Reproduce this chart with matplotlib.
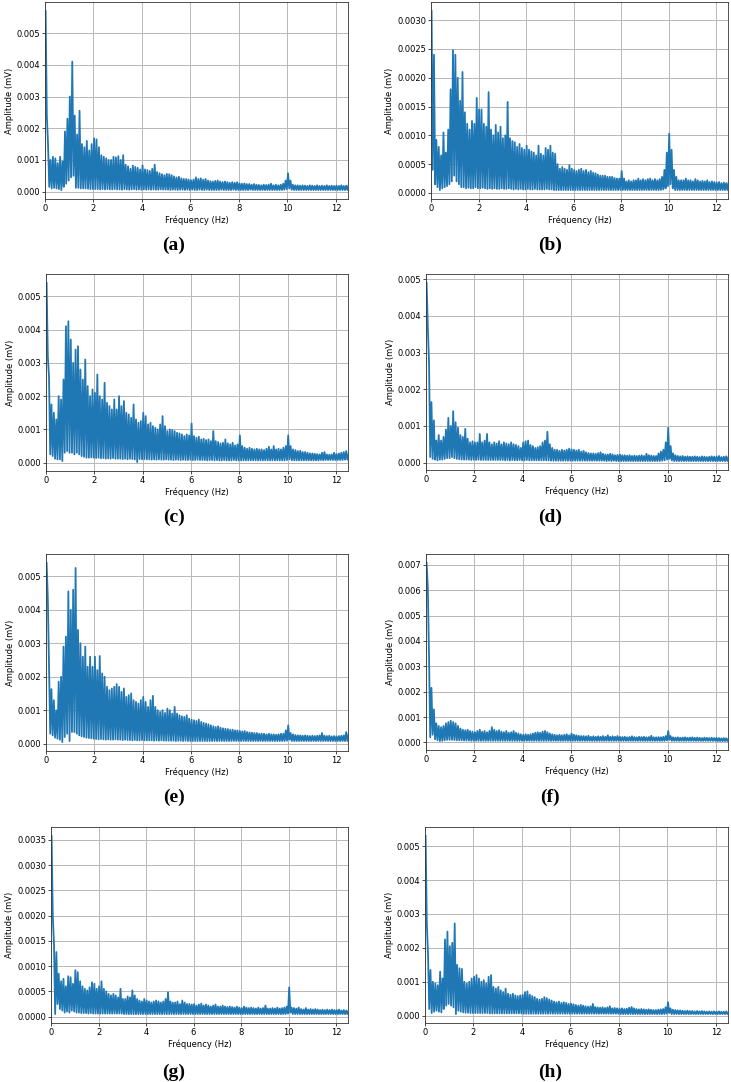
import numpy as np
import matplotlib.pyplot as plt
from matplotlib.ticker import MultipleLocator

# FFT amplitude spectra in units of 1e-5 mV.
# "even" = bins at 0.0, 0.1, ... 12.5 Hz ; "odd" = bins at 0.05, 0.15, ... 12.45 Hz
a_even = [570, 150, 100, 110, 105, 90, 110, 95, 190, 230,
          300, 410, 240, 180, 255, 150, 140, 160, 130, 150,
          168, 165, 140, 115, 110, 105, 100, 100, 110, 108,
          112, 100, 115, 85, 80, 72, 82, 78, 75, 70,
          83, 70, 68, 65, 72, 85, 62, 58, 55, 52,
          56, 55, 52, 48, 45, 47, 42, 40, 40, 38,
          36, 38, 45, 40, 42, 38, 40, 35, 33, 32,
          34, 35, 32, 30, 32, 30, 28, 30, 28, 30,
          26, 25, 26, 24, 24, 22, 24, 22, 21, 20,
          22, 21, 22, 25, 20, 22, 20, 22, 25, 35,
          58, 35, 22, 20, 20, 19, 20, 19, 18, 20,
          19, 18, 20, 18, 19, 18, 20, 18, 19, 18,
          19, 18, 20, 18, 19, 20]
a_odd = [240, 15, 10, 12, 10, 8, 5, 15, 25, 35,
         45, 50, 12, 12, 10, 10, 10, 9, 8, 8,
         8, 8, 7, 8, 7, 8, 7, 7, 8, 7,
         7, 6, 8, 7, 6, 7, 8, 6, 7, 6,
         7, 6, 7, 6, 7, 6, 6, 7, 6, 6,
         6, 5, 6, 6, 5, 6, 6, 5, 6, 5,
         6, 5, 5, 6, 5, 5, 6, 5, 5, 5,
         5, 5, 6, 5, 5, 5, 5, 6, 5, 5,
         5, 5, 5, 5, 6, 5, 5, 5, 5, 5,
         5, 5, 5, 5, 5, 5, 5, 5, 6, 8,
         10, 6, 5, 5, 5, 5, 5, 5, 5, 5,
         5, 5, 5, 5, 5, 5, 5, 5, 5, 5,
         5, 5, 5, 5, 5]

b_even = [316, 240, 92, 80, 65, 105, 70, 110, 180, 248,
          240, 200, 160, 210, 140, 120, 110, 125, 120, 165,
          145, 145, 120, 115, 175, 110, 100, 118, 105, 115,
          95, 100, 158, 95, 90, 88, 80, 85, 78, 75,
          82, 75, 72, 70, 65, 82, 68, 65, 78, 75,
          82, 70, 68, 50, 42, 45, 42, 40, 48, 42,
          40, 38, 40, 42, 38, 40, 36, 38, 35, 34,
          32, 30, 30, 30, 28, 28, 28, 26, 25, 25,
          38, 25, 20, 22, 20, 22, 22, 25, 22, 24,
          22, 24, 25, 22, 24, 22, 24, 28, 40, 70,
          103, 75, 40, 28, 22, 22, 22, 25, 22, 22,
          20, 24, 22, 20, 21, 20, 22, 19, 20, 19,
          18, 19, 17, 18, 17, 18]
b_odd = [40, 15, 10, 5, 8, 10, 12, 15, 20, 30,
         20, 15, 10, 10, 8, 9, 8, 8, 10, 8,
         8, 9, 8, 7, 8, 7, 8, 7, 7, 8,
         7, 7, 8, 7, 6, 7, 6, 7, 6, 6,
         7, 6, 6, 7, 6, 6, 6, 6, 7, 6,
         6, 5, 5, 5, 5, 5, 5, 5, 5, 5,
         5, 5, 5, 5, 5, 5, 5, 5, 5, 5,
         5, 5, 5, 5, 5, 5, 5, 5, 5, 5,
         5, 5, 5, 5, 5, 5, 5, 5, 5, 5,
         5, 5, 5, 5, 5, 5, 5, 6, 8, 12,
         15, 8, 5, 5, 5, 5, 5, 5, 5, 5,
         5, 5, 5, 5, 5, 5, 5, 5, 5, 5,
         5, 5, 5, 5, 5]

c_even = [540, 257, 175, 150, 130, 200, 190, 250, 410, 425,
          370, 300, 340, 350, 280, 250, 310, 230, 200, 220,
          210, 265, 200, 190, 240, 180, 170, 160, 190, 160,
          200, 170, 185, 150, 145, 135, 175, 130, 120, 125,
          150, 140, 115, 120, 110, 105, 100, 115, 140, 110,
          95, 100, 98, 95, 90, 88, 85, 80, 85, 82,
          118, 80, 75, 78, 70, 72, 68, 70, 65, 95,
          65, 62, 58, 60, 70, 58, 55, 60, 52, 55,
          82, 50, 45, 42, 45, 42, 40, 42, 40, 40,
          38, 42, 48, 40, 50, 40, 42, 40, 45, 50,
          82, 50, 40, 38, 35, 36, 32, 32, 30, 28,
          28, 27, 26, 25, 30, 32, 25, 24, 25, 30,
          26, 28, 30, 32, 35, 25]
c_odd = [320, 25, 20, 12, 10, 10, 5, 30, 35, 30,
         30, 25, 30, 25, 20, 18, 15, 15, 16, 15,
         14, 15, 13, 14, 12, 13, 12, 14, 12, 12,
         12, 11, 12, 10, 12, 11, 10, 2, 11, 10,
         11, 10, 10, 9, 10, 9, 10, 9, 9, 10,
         9, 9, 8, 9, 9, 8, 9, 8, 8, 9,
         8, 8, 9, 8, 8, 8, 7, 8, 8, 7,
         8, 7, 7, 8, 7, 7, 7, 8, 7, 7,
         7, 7, 7, 7, 7, 7, 7, 7, 7, 7,
         7, 7, 7, 7, 7, 7, 7, 7, 7, 8,
         10, 7, 7, 7, 7, 7, 7, 7, 7, 7,
         7, 7, 7, 8, 7, 8, 8, 8, 8, 8,
         8, 8, 8, 9, 9]

d_even = [490, 275, 165, 115, 60, 75, 60, 70, 90, 122,
          100, 140, 110, 95, 75, 70, 92, 65, 55, 58,
          55, 55, 78, 55, 60, 78, 55, 50, 55, 52,
          58, 50, 55, 52, 50, 55, 50, 48, 45, 40,
          55, 58, 60, 48, 45, 40, 42, 45, 55, 60,
          84, 50, 40, 35, 35, 32, 35, 33, 35, 38,
          36, 35, 33, 35, 30, 32, 28, 26, 25, 25,
          24, 26, 28, 24, 22, 22, 24, 22, 20, 21,
          22, 20, 20, 19, 20, 18, 19, 18, 19, 20,
          18, 24, 20, 19, 18, 18, 25, 30, 35, 55,
          95, 45, 25, 20, 18, 17, 18, 16, 17, 16,
          16, 17, 16, 15, 17, 16, 15, 16, 17, 16,
          16, 18, 15, 16, 17, 15]
d_odd = [370, 15, 10, 8, 6, 8, 8, 10, 12, 12,
         15, 12, 10, 9, 8, 8, 8, 8, 7, 8,
         7, 8, 7, 7, 7, 7, 7, 7, 7, 7,
         7, 7, 6, 7, 6, 7, 6, 6, 7, 6,
         6, 7, 6, 6, 6, 6, 6, 6, 6, 6,
         6, 5, 5, 5, 5, 5, 5, 5, 5, 5,
         5, 5, 5, 5, 5, 5, 5, 5, 5, 5,
         5, 5, 5, 5, 4, 5, 4, 5, 4, 4,
         4, 4, 4, 4, 4, 4, 4, 4, 4, 4,
         4, 4, 4, 4, 4, 4, 4, 5, 6, 8,
         10, 6, 4, 4, 4, 4, 4, 4, 4, 4,
         4, 4, 4, 4, 4, 4, 4, 4, 4, 4,
         4, 4, 4, 4, 4]

e_even = [540, 228, 163, 130, 100, 185, 200, 290, 320, 455,
          400, 460, 525, 340, 300, 260, 290, 230, 260, 230,
          260, 220, 262, 210, 200, 170, 160, 165, 170, 178,
          170, 155, 165, 140, 145, 150, 130, 125, 120, 130,
          140, 125, 110, 130, 143, 110, 100, 95, 100, 92,
          105, 100, 90, 110, 90, 85, 82, 80, 85, 75,
          72, 70, 68, 72, 65, 62, 60, 58, 55, 52,
          50, 52, 48, 46, 45, 44, 42, 42, 40, 40,
          38, 37, 38, 35, 34, 33, 32, 32, 30, 30,
          30, 28, 30, 28, 28, 27, 28, 30, 30, 40,
          55, 32, 28, 26, 25, 25, 24, 25, 24, 23,
          24, 23, 24, 25, 32, 24, 23, 24, 22, 23,
          22, 23, 24, 25, 35, 28]
e_odd = [435, 30, 25, 18, 15, 12, 5, 20, 30, 8,
         35, 35, 30, 25, 22, 20, 18, 17, 16, 15,
         14, 13, 14, 13, 12, 13, 12, 12, 13, 12,
         12, 11, 12, 11, 11, 10, 11, 10, 10, 11,
         10, 10, 10, 10, 9, 10, 9, 10, 9, 9,
         9, 9, 9, 8, 9, 9, 8, 9, 8, 8,
         8, 8, 8, 8, 8, 8, 8, 8, 8, 8,
         8, 8, 8, 8, 8, 8, 8, 8, 8, 8,
         8, 8, 8, 8, 8, 8, 8, 8, 8, 8,
         8, 8, 8, 8, 8, 8, 8, 8, 8, 9,
         12, 8, 8, 8, 8, 8, 8, 8, 8, 8,
         8, 8, 8, 8, 8, 8, 8, 8, 8, 8,
         8, 8, 8, 8, 8]

f_even = [708, 340, 215, 130, 75, 65, 60, 65, 75, 80,
          85, 80, 75, 65, 55, 50, 48, 50, 45, 42,
          40, 45, 50, 42, 45, 40, 45, 60, 50, 45,
          48, 42, 40, 45, 38, 40, 45, 38, 35, 32,
          30, 32, 30, 32, 35, 38, 40, 38, 42, 45,
          40, 35, 32, 30, 28, 30, 28, 30, 32, 28,
          35, 30, 28, 26, 25, 25, 24, 26, 22, 24,
          22, 24, 22, 25, 22, 28, 22, 24, 22, 25,
          22, 21, 22, 20, 21, 24, 21, 20, 22, 21,
          22, 20, 21, 26, 20, 20, 21, 20, 22, 25,
          45, 25, 20, 19, 20, 18, 19, 20, 18, 19,
          20, 18, 19, 18, 17, 19, 18, 17, 18, 17,
          18, 17, 16, 17, 16, 15]
f_odd = [610, 20, 30, 12, 8, 5, 6, 8, 10, 10,
         10, 9, 8, 8, 8, 7, 7, 7, 6, 6,
         6, 6, 6, 6, 6, 6, 6, 6, 6, 6,
         6, 6, 6, 6, 6, 6, 6, 6, 6, 6,
         6, 6, 6, 6, 6, 6, 6, 6, 6, 6,
         6, 6, 6, 6, 6, 6, 6, 6, 6, 6,
         6, 6, 6, 6, 6, 6, 6, 6, 6, 6,
         6, 6, 6, 6, 6, 6, 6, 6, 6, 6,
         6, 6, 6, 6, 6, 6, 6, 6, 6, 6,
         6, 6, 6, 6, 6, 6, 6, 6, 6, 8,
         10, 6, 6, 6, 6, 6, 6, 6, 6, 6,
         6, 6, 6, 6, 6, 6, 6, 6, 6, 6,
         5, 5, 5, 5, 5]

g_even = [358, 145, 128, 85, 70, 75, 60, 80, 78, 65,
          92, 88, 70, 60, 55, 52, 58, 68, 65, 55,
          60, 70, 55, 50, 45, 42, 45, 42, 38, 55,
          35, 35, 40, 38, 52, 42, 35, 32, 30, 35,
          32, 30, 28, 30, 32, 30, 28, 30, 35, 48,
          30, 28, 28, 30, 25, 32, 28, 25, 25, 24,
          25, 22, 24, 26, 22, 24, 22, 20, 22, 24,
          20, 20, 22, 20, 19, 20, 19, 18, 20, 18,
          17, 20, 18, 17, 18, 17, 16, 18, 16, 17,
          22, 16, 16, 17, 16, 18, 16, 17, 18, 20,
          58, 18, 17, 16, 18, 15, 14, 17, 14, 15,
          14, 15, 14, 13, 14, 13, 14, 13, 14, 13,
          13, 14, 12, 13, 12, 12]
g_odd = [200, 5, 25, 15, 12, 8, 10, 8, 12, 10,
         8, 8, 7, 7, 7, 6, 7, 6, 6, 6,
         6, 6, 6, 6, 6, 6, 6, 6, 6, 6,
         5, 5, 5, 5, 5, 5, 5, 5, 5, 5,
         5, 5, 5, 5, 5, 5, 5, 5, 5, 5,
         5, 5, 5, 5, 5, 5, 5, 5, 5, 5,
         5, 5, 5, 5, 5, 5, 5, 5, 5, 5,
         5, 5, 5, 5, 5, 5, 5, 5, 5, 5,
         5, 5, 5, 5, 5, 5, 5, 5, 5, 5,
         5, 5, 5, 5, 5, 5, 5, 5, 5, 6,
         8, 5, 5, 5, 5, 5, 5, 5, 5, 5,
         5, 5, 5, 5, 5, 5, 5, 5, 5, 5,
         5, 5, 5, 5, 5]

h_even = [530, 180, 135, 100, 95, 90, 130, 110, 225, 248,
          205, 215, 272, 150, 140, 138, 100, 95, 100, 110,
          115, 120, 110, 100, 105, 95, 115, 120, 85, 80,
          85, 75, 70, 80, 65, 62, 65, 60, 58, 60,
          62, 70, 72, 62, 58, 55, 50, 48, 50, 55,
          52, 48, 45, 42, 40, 42, 38, 40, 38, 35,
          36, 34, 32, 30, 32, 30, 28, 27, 28, 35,
          26, 25, 24, 25, 23, 25, 28, 22, 23, 22,
          21, 22, 20, 21, 24, 26, 22, 20, 19, 20,
          19, 18, 19, 18, 17, 17, 18, 19, 20, 25,
          40, 22, 18, 17, 16, 16, 15, 14, 15, 14,
          14, 13, 14, 13, 14, 13, 12, 13, 12, 13,
          12, 13, 12, 12, 13, 11]
h_odd = [272, 20, 8, 12, 15, 12, 10, 20, 30, 35,
         30, 25, 5, 15, 12, 10, 9, 9, 8, 8,
         8, 8, 8, 8, 8, 8, 7, 7, 7, 7,
         7, 7, 7, 7, 7, 7, 7, 7, 7, 7,
         6, 6, 6, 6, 6, 6, 6, 6, 6, 6,
         6, 6, 6, 6, 6, 6, 6, 6, 6, 6,
         6, 6, 6, 6, 6, 6, 6, 6, 6, 6,
         6, 6, 6, 6, 6, 6, 6, 6, 6, 6,
         5, 5, 5, 5, 5, 5, 5, 5, 5, 5,
         5, 5, 5, 5, 5, 5, 5, 5, 5, 6,
         8, 5, 5, 5, 5, 5, 5, 5, 5, 5,
         5, 5, 5, 5, 5, 5, 5, 5, 5, 5,
         5, 5, 5, 5, 5]

labels = ["(a)", "(b)", "(c)", "(d)", "(e)", "(f)", "(g)", "(h)"]
series = [(a_even, a_odd), (b_even, b_odd), (c_even, c_odd), (d_even, d_odd),
          (e_even, e_odd), (f_even, f_odd), (g_even, g_odd), (h_even, h_odd)]
y_steps = [0.001, 0.0005, 0.001, 0.001, 0.001, 0.001, 0.0005, 0.001]
x_ticks = [0, 2, 4, 6, 8, 10, 12]

freq = 0.025 + np.arange(251) * 0.05   # bin centres, Hz

# panel boxes in pixels: left, top, right, bottom
W, H = 731, 1082
boxes = [(45, 2, 348, 199), (431, 2, 728, 199),
         (46, 274, 348, 471), (426, 274, 728, 470),
         (46, 554, 348, 751), (426, 554, 728, 750),
         (51, 827, 348, 1023), (425, 827, 728, 1023)]
label_pos = [(174, 245), (550, 245), (174, 517), (550, 517),
             (174, 797), (550, 797), (174, 1072), (550, 1072)]

fig = plt.figure(figsize=(W / 100, H / 100), dpi=100)

for i in range(8):
    l, t, r, b = boxes[i]
    ax = fig.add_axes([l / W, 1 - b / H, (r - l) / W, (b - t) / H])
    even, odd = series[i]
    amp = np.empty(251)
    amp[0::2] = np.array(even) * 1e-5
    amp[1::2] = np.array(odd) * 1e-5
    ax.plot(freq, amp, color='#1f77b4', lw=1.3)
    ax.set_xlim(0, 12.5)
    ax.set_xticks(x_ticks)
    ax.yaxis.set_major_locator(MultipleLocator(y_steps[i]))
    ax.grid(True, color='#b8b8b8', lw=0.7)
    ax.tick_params(labelsize=6, length=2, width=0.5, pad=1.5)
    for s in ax.spines.values():
        s.set_linewidth(0.6)
        s.set_color('#333333')
    ax.set_xlabel('Fréquency (Hz)', fontsize=6, labelpad=2)
    ax.set_ylabel('Amplitude (mV)', fontsize=6, labelpad=2)
    fig.text(label_pos[i][0] / W, 1 - label_pos[i][1] / H, labels[i],
             ha='center', va='center', fontsize=14, fontweight='bold',
             family='Liberation Serif')

plt.savefig('out.png', dpi=100)
